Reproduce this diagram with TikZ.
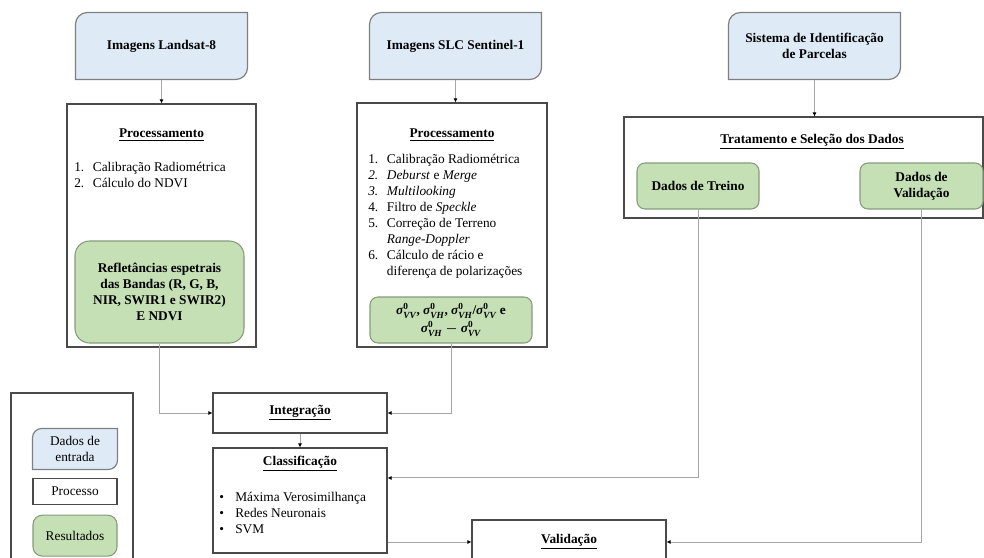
\documentclass[tikz,border=0pt]{standalone}
\usepackage{fontspec}
\setmainfont{Liberation Serif}
\usetikzlibrary{arrows.meta,positioning,backgrounds}

\definecolor{inputfill}{HTML}{DEEBF7}
\definecolor{inputdraw}{HTML}{7F7F7F}
\definecolor{resfill}{HTML}{C5E0B4}
\definecolor{resdraw}{HTML}{869A7C}
\definecolor{boxdraw}{HTML}{4A4A4A}
\definecolor{linegray}{HTML}{A6A6A6}

% one numbered step, text hanging after the number
\newcommand{\stepitem}[2]{\makebox[14pt][l]{#1}#2}
\newcommand{\stepcont}[1]{\hspace*{14pt}#1}
% backscatter coefficient, bold italic as in the text font
\newcommand{\sig}[1]{$\mbox{\bfseries\itshape σ}^{\mbox{\scriptsize\bfseries 0}}_{\mbox{\scriptsize\bfseries\itshape #1}}$}

\begin{document}
\begin{tikzpicture}[
    % one unit = one pixel of the original figure, y going down
    x=0.75pt, y=-0.75pt,
    % general settings
    align=center,
    font=\fontsize{10}{12}\selectfont,
    % nodes
    base/.style={rectangle, line width=0.8pt, inner sep=2pt},
    input/.style={base, draw=none, font=\bfseries, minimum width=128.25pt, minimum height=49.5pt},
    inframe/.style={draw=inputdraw, fill=inputfill, line width=0.9pt},
    process/.style={base, draw=boxdraw},
    result/.style={base, draw=resdraw, fill=resfill, rounded corners=6pt, font=\bfseries},
    heading/.style={font=\bfseries, inner sep=1pt},
    steps/.style={align=left, anchor=north west, inner sep=0pt},
    % arrows
    conn/.style={draw=linegray, line width=0.75pt, -{Latex[length=3pt,width=3pt,color=black]}},
  ]

  \useasboundingbox (0,0) rectangle (984,557);
  \clip (0,0) rectangle (984,557);

  % input data
  \node (landsat)  [input] at (161.5,46)  {Imagens Landsat-8};
  \node (sentinel) [input] at (455.5,46)  {Imagens SLC Sentinel-1};
  \node (lpis)     [input] at (814.5,46)  {Sistema de Identificação\\de Parcelas};

  % processing of the optical images
  \node (proc1)       [process, minimum width=141.75pt, minimum height=182.25pt] at (161.5,225.5) {};
  \node (proc1-title) [heading] at (161.5,135) {\underline{Processamento}};
  \node (proc1-steps) [steps]   at (74,162)    {\stepitem{1.}{Calibração Radiométrica}\\
                                                \stepitem{2.}{Cálculo do NDVI}};
  \node (bands) [result, rounded corners=11pt, minimum width=126.75pt, minimum height=76.5pt] at (159.5,292)
        {Refletâncias espetrais\\das Bandas (R, G, B,\\NIR, SWIR1 e SWIR2)\\E NDVI};

  % processing of the radar images
  \node (proc2)       [process, minimum width=142.5pt, minimum height=183pt] at (452,225) {};
  \node (proc2-title) [heading] at (452,135) {\underline{Processamento}};
  \node (proc2-steps) [steps]   at (368,154) {\stepitem{1.}{Calibração Radiométrica}\\
                                              \stepitem{\textit{2.}}{\textit{Deburst} e \textit{Merge}}\\
                                              \stepitem{\textit{3.}}{\textit{Multilooking}}\\
                                              \stepitem{4.}{Filtro de \textit{Speckle}}\\
                                              \stepitem{5.}{Correção de Terreno}\\
                                              \stepcont{\textit{Range-Doppler}}\\
                                              \stepitem{6.}{Cálculo de rácio e}\\
                                              \stepcont{diferença de polarizações}};
  \node (sigma) [result, font=\fontsize{10}{13.5}\selectfont\bfseries\boldmath, minimum width=121.5pt, minimum height=34.5pt] at (451,320)
        {\sig{VV}, \sig{VH}, \sig{VH}/\sig{VV} e\\\sig{VH} $-$ \sig{VV}};

  % reference parcels
  \node (select)       [process, minimum width=269.25pt, minimum height=75.75pt] at (803.5,167.5) {};
  \node (select-title) [heading] at (812,142) {\underline{Tratamento e Seleção dos Dados}};
  \node (train)   [result, minimum width=91.5pt,  minimum height=34.5pt] at (698,186)   {Dados de Treino};
  \node (valdata) [result, minimum width=92.25pt, minimum height=34.5pt] at (921.5,186) {Dados de\\Validação};

  % integration, classification, validation
  \node (integ)         [process, font=\bfseries, minimum width=130.5pt, minimum height=30pt] at (300,413) {\underline{Integração}};
  \node (classif)       [process, minimum width=130.5pt, minimum height=78.75pt] at (300,500.5) {};
  \node (classif-title) [heading] at (300,464) {\underline{Classificação}};
  \node (classif-list)  [steps]   at (219,491.5) {\makebox[12pt][l]{\textbullet}Máxima Verosimilhança\\
                                                  \makebox[12pt][l]{\textbullet}Redes Neuronais\\
                                                  \makebox[12pt][l]{\textbullet}SVM};
  \node (valid)         [process, font=\bfseries, minimum width=145.5pt, minimum height=33pt] at (569,542) {\underline{Validação}};

  % legend
  \node (legend)    [process, minimum width=91.5pt, minimum height=155.25pt] at (72,496.5) {};
  \node (leg-input) [input, font=\normalfont, minimum width=63pt, minimum height=30pt] at (75,449) {Dados de\\entrada};
  \node (leg-proc)  [process, minimum width=63pt, minimum height=19.5pt, below=6pt of leg-input] {Processo};
  \node (leg-res)   [result, font=\normalfont, rounded corners=7pt, minimum width=63pt, minimum height=30.75pt, below=7.5pt of leg-proc] {Resultados};

  % input boxes: rounded top left and bottom right corners only
  % (\r radius, \k distance of the bezier handles from the corner)
  \begin{scope}[on background layer]
    \foreach \n/\r/\k in {landsat/9pt/4pt, sentinel/9pt/4pt, lpis/9pt/4pt, leg-input/7pt/3.1pt} {
      \draw[inframe] (\n.south west) -- ([yshift=-\r]\n.north west)
                     .. controls ([yshift=-\k]\n.north west) and ([xshift=\k]\n.north west) .. ([xshift=\r]\n.north west)
                     -- (\n.north east) -- ([yshift=\r]\n.south east)
                     .. controls ([yshift=\k]\n.south east) and ([xshift=-\k]\n.south east) .. ([xshift=-\r]\n.south east)
                     -- cycle;
    }
  \end{scope}

  % connectors
  \draw[conn] (landsat) -- (proc1);
  \draw[conn] (sentinel.south) -- (sentinel.south |- proc2.north);
  \draw[conn] (lpis.south) -- (lpis.south |- select.north);

  \draw[conn] (bands.south) |- (integ.west);
  \draw[conn] (sigma.south) |- (integ.east);
  \draw[conn] (integ) -- (classif);

  % entry point of the training data
  \coordinate (classif-in) at ([yshift=16.9pt]classif.east);
  \draw[conn] (train.south) |- (classif-in);
  \draw[conn] (classif.east |- valid.west) -- (valid.west);
  \draw[conn] (valdata.south) |- (valid.east);

\end{tikzpicture}
\end{document}
